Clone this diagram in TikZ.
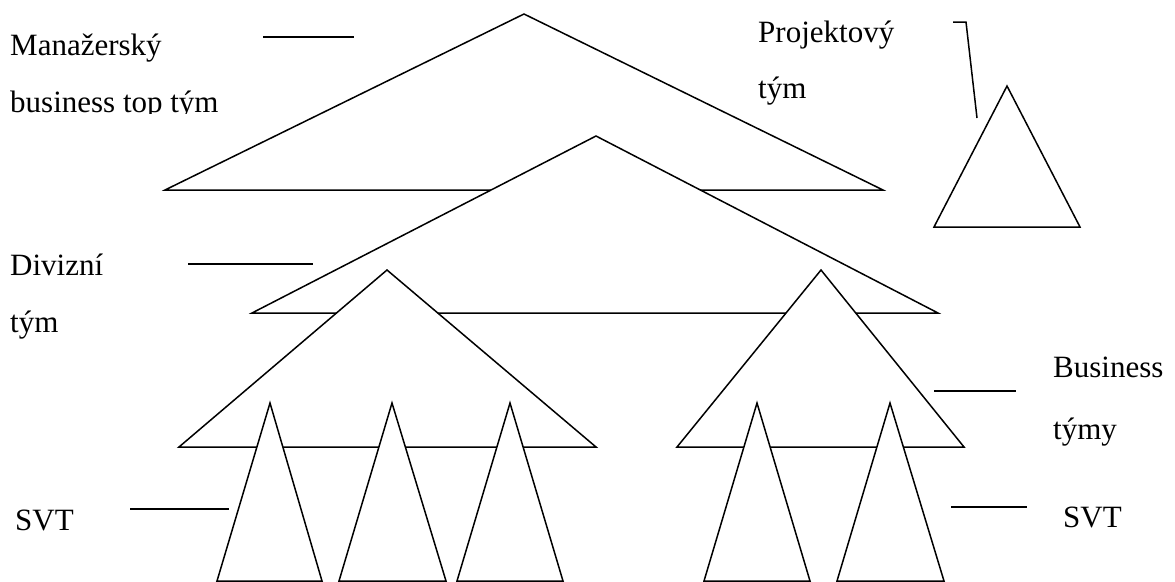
\documentclass[tikz,border=0pt]{standalone}
\usepackage{fontspec}
\setmainfont{Liberation Serif}
\begin{document}
\begin{tikzpicture}[x=1pt,y=-1pt,
  tri/.style={draw=black,fill=white,line width=1.5pt,line join=miter},
  leader/.style={draw=black,line width=1.5pt},
  lbl/.style={anchor=base west,inner sep=0pt,font=\fontsize{31}{31}\selectfont}]
\useasboundingbox (0,0) rectangle (1175,581);

% top management team
\draw[tri] (524,14) -- (883,190) -- (165,190) -- cycle;
% project team
\draw[tri] (1007,86) -- (1080,227) -- (934,227) -- cycle;
% division team
\draw[tri] (596,136) -- (938,313) -- (252,313) -- cycle;
% business teams
\draw[tri] (387,270) -- (596,447) -- (179,447) -- cycle;
\draw[tri] (821,270) -- (964,447) -- (677,447) -- cycle;
% SVT teams
\draw[tri] (270,403) -- (322,581) -- (217,581) -- cycle;
\draw[tri] (392,403) -- (446,581) -- (339,581) -- cycle;
\draw[tri] (510,403) -- (563,581) -- (457,581) -- cycle;
\draw[tri] (757,403) -- (810,581) -- (704,581) -- cycle;
\draw[tri] (890,403) -- (944,581) -- (837,581) -- cycle;

% leader lines
\coordinate (m1) at (263,37);  \coordinate (m2) at (354,37);
\coordinate (d1) at (188,264); \coordinate (d2) at (313,264);
\coordinate (s1) at (130,509); \coordinate (s2) at (229,509);
\coordinate (b1) at (934,391); \coordinate (b2) at (1016,391);
\coordinate (r1) at (951,507); \coordinate (r2) at (1027,507);
\coordinate (p1) at (953,22);  \coordinate (p2) at (966,22);
\coordinate (p3) at (977,118);
\draw[leader] (m1) -- (m2);
\draw[leader] (d1) -- (d2);
\draw[leader] (s1) -- (s2);
\draw[leader] (b1) -- (b2);
\draw[leader] (r1) -- (r2);
\draw[leader] (p1) -- (p2) -- (p3);

% labels
\node[lbl] (man1) at (10,55) {Manažerský};
\begin{scope}
  \clip (0,60) rectangle (260,113);
  \node[lbl] (man2) at (10,112) {business top tým};
\end{scope}
\node[lbl] (proj1) at (758,42) {Projektový};
\node[lbl] (proj2) at (758,98) {tým};
\node[lbl] (div1) at (10,275) {Divizní};
\node[lbl] (div2) at (10,332) {tým};
\node[lbl] (svtl) at (15,530) {SVT};
\node[lbl] (bus1) at (1053,377) {Business};
\node[lbl] (bus2) at (1053,439) {týmy};
\node[lbl] (svtr) at (1063,527) {SVT};
\end{tikzpicture}
\end{document}
